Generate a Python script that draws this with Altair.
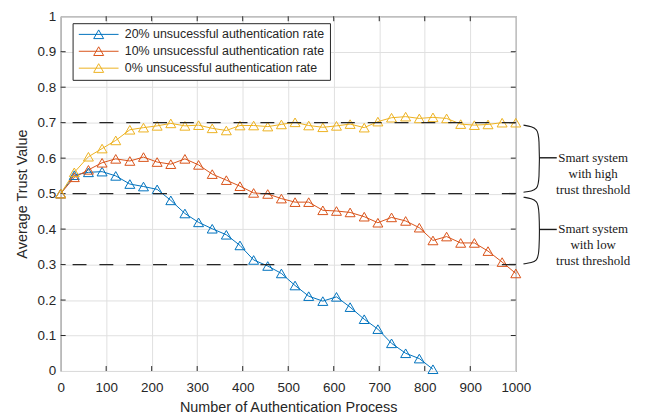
import altair as alt
import pandas as pd

# ---- data ----
x_vals = [0, 30, 61, 91, 121, 152, 182, 212, 242, 273, 303, 333, 364, 394, 424,
          455, 485, 515, 545, 576, 606, 636, 667, 697, 727, 758, 788, 818, 848,
          879, 909, 939, 970, 1000]

s20 = [0.50, 0.552, 0.560, 0.562, 0.550, 0.527, 0.520, 0.512, 0.481, 0.444,
       0.419, 0.401, 0.384, 0.354, 0.313, 0.296, 0.275, 0.241, 0.211, 0.197,
       0.209, 0.180, 0.146, 0.118, 0.078, 0.050, 0.035, 0.005]
s10 = [0.50, 0.546, 0.567, 0.587, 0.598, 0.592, 0.603, 0.589, 0.583, 0.598,
       0.581, 0.555, 0.538, 0.521, 0.502, 0.499, 0.486, 0.476, 0.476, 0.453,
       0.451, 0.447, 0.435, 0.418, 0.433, 0.423, 0.404, 0.368, 0.379, 0.361,
       0.361, 0.338, 0.307, 0.275]
s0 = [0.50, 0.560, 0.604, 0.627, 0.650, 0.680, 0.686, 0.691, 0.698, 0.691,
      0.693, 0.684, 0.678, 0.692, 0.692, 0.689, 0.695, 0.701, 0.692, 0.687,
      0.691, 0.696, 0.686, 0.703, 0.714, 0.717, 0.712, 0.715, 0.712, 0.696,
      0.693, 0.695, 0.700, 0.700]

series_names = ["20% unsucessful authentication rate",
                "10% unsucessful authentication rate",
                "0% unsucessful authentication rate"]
series_colors = ["#0072BD", "#D95319", "#EDB120"]

thresholds = [0.7, 0.5, 0.3]
x_ticks = [0, 100, 200, 300, 400, 500, 600, 700, 800, 900, 1000]
y_ticks = [0, 0.1, 0.2, 0.3, 0.4, 0.5, 0.6, 0.7, 0.8, 0.9, 1]

# annotation braces (x in axis units beyond 1000, y in trust units)
brace_x = [1017, 1035, 1046, 1052, 1052, 1046, 1035, 1017]
brace_hi_y = [0.693, 0.689, 0.681, 0.665, 0.530, 0.514, 0.507, 0.504]
brace_lo_y = [0.490, 0.486, 0.478, 0.462, 0.328, 0.312, 0.305, 0.302]
stub_y = [0.601, 0.399]
stub_x = [1052, 1090]
ann_text = ["Smart system\nwith high\ntrust threshold",
            "Smart system\nwith low\ntrust threshold"]
ann_x = 1170

W, H = 458, 357
TICK = 5

rows = []
for name, ys in zip(series_names, [s20, s10, s0]):
    for xv, yv in zip(x_vals, ys):
        rows.append({"x": xv, "y": yv, "series": name})
df = pd.DataFrame(rows)

brace_rows = []
for bid, ys in [("hi", brace_hi_y), ("lo", brace_lo_y)]:
    for i, (bx, by) in enumerate(zip(brace_x, ys)):
        brace_rows.append({"x": bx, "y": by, "bid": bid, "o": i})
brace_df = pd.DataFrame(brace_rows)
stub_df = pd.DataFrame({"y": stub_y, "x": [stub_x[0]] * 2, "x2": [stub_x[1]] * 2})
text_df = pd.DataFrame({"t": ann_text, "y": stub_y, "x": [ann_x] * 2})
thr_df = pd.DataFrame({"y": thresholds})
xt_df = pd.DataFrame({"x": x_ticks[1:-1]})
yt_df = pd.DataFrame({"y": y_ticks[1:-1]})

xscale = alt.Scale(domain=[0, 1000], nice=False, zero=False)
yscale = alt.Scale(domain=[0, 1], nice=False)
color_scale = alt.Scale(domain=series_names, range=series_colors)

xaxis = alt.Axis(values=x_ticks, format="d", labelOverlap=False, labelFlush=False,
                 title="Number of Authentication Process")
yaxis = alt.Axis(values=y_ticks, format="~g", labelOverlap=False, labelFlush=False,
                 title="Average Trust Value")
X = alt.X("x:Q", scale=xscale, axis=xaxis)
Y = alt.Y("y:Q", scale=yscale, axis=yaxis)

legend_path = "M-1,0L7,0M3,-0.9L4,0.85L2,0.85Z"

lines = alt.Chart(df).mark_line(strokeWidth=1).encode(
    x=X, y=Y,
    color=alt.Color("series:N", scale=color_scale, sort=series_names,
                    legend=alt.Legend(title=None, orient="none", legendX=12, legendY=7,
                                      symbolType=legend_path, symbolSize=100,
                                      symbolStrokeWidth=1, symbolFillColor="transparent",
                                      labelOffset=35, labelFontSize=12.5,
                                      labelFont="Liberation Sans", labelColor="#262626",
                                      rowPadding=3, padding=5,
                                      strokeColor="#262626", fillColor="white",
                                      labelLimit=400)),
    order="x:Q",
)
points = alt.Chart(df).mark_point(shape="triangle-up", filled=False, size=100, strokeWidth=1, opacity=1).encode(
    x=X, y=Y,
    color=alt.Color("series:N", scale=color_scale, legend=None),
)
rules = alt.Chart(thr_df).mark_rule(color="#262626", strokeWidth=1.4, strokeDash=[14, 13]).encode(
    y=Y
)
braces = alt.Chart(brace_df).mark_line(color="#1a1a1a", strokeWidth=1.1, clip=False, interpolate="basis").encode(
    x=X, y=Y, detail="bid:N", order="o:Q"
)
stubs = alt.Chart(stub_df).mark_rule(color="#1a1a1a", strokeWidth=1.4, clip=False).encode(
    x=X, x2="x2:Q", y=Y
)
texts = alt.Chart(text_df).mark_text(font="Liberation Serif", fontSize=13, lineBreak="\n",
                                     lineHeight=16, align="center", baseline="middle",
                                     color="#1a1a1a", clip=False).encode(
    x=X, y=Y, text="t:N"
)

tick_color = "#262626"
xt_bottom = alt.Chart(xt_df).mark_rule(color=tick_color, strokeWidth=1).encode(
    x=X, y=alt.value(H), y2=alt.value(H - TICK))
xt_top = alt.Chart(xt_df).mark_rule(color=tick_color, strokeWidth=1).encode(
    x=X, y=alt.value(0), y2=alt.value(TICK))
yt_left = alt.Chart(yt_df).mark_rule(color=tick_color, strokeWidth=1).encode(
    y=Y, x=alt.value(0), x2=alt.value(TICK))
yt_right = alt.Chart(yt_df).mark_rule(color=tick_color, strokeWidth=1).encode(
    y=Y, x=alt.value(W), x2=alt.value(W - TICK))

chart = alt.layer(xt_bottom, xt_top, yt_left, yt_right,
                  lines, points, rules, braces, stubs, texts).properties(
    width=W, height=H,
    padding={"left": 53, "top": 7, "right": 125, "bottom": 46},
    autosize=alt.AutoSizeParams(type="none"),
).configure_view(
    stroke="#262626", strokeWidth=1
).configure_axis(
    grid=True, gridColor="#e0e0e0", gridWidth=1, domain=False, ticks=False,
    labelFont="Liberation Sans", labelFontSize=13.5, labelColor="#262626",
    titleFont="Liberation Sans", titleFontSize=14.5, titleColor="#262626",
    titleFontWeight="normal"
).configure_axisY(
    titlePadding=8, labelPadding=5
).configure_axisX(
    titlePadding=6, labelPadding=10
)

chart.save("out.html", embed_options={"renderer": "svg", "actions": False})
